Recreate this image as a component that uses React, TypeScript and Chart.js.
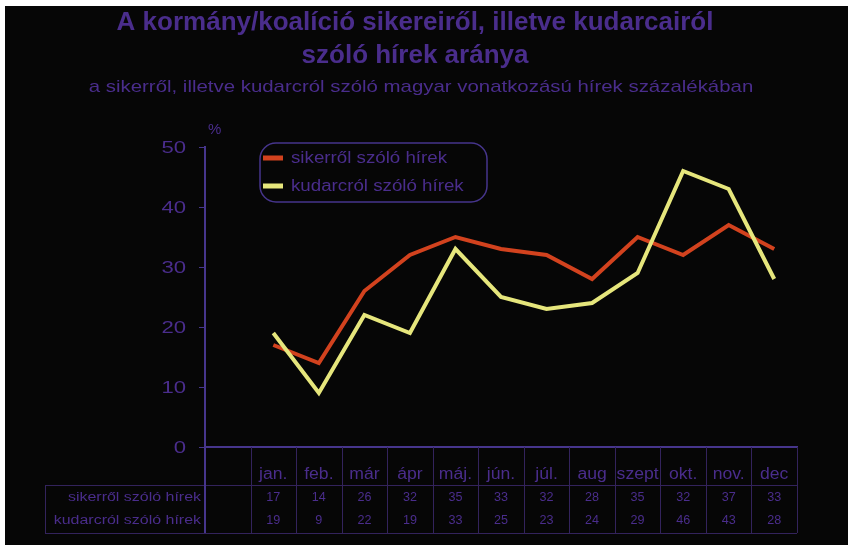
import React, { useEffect, useRef } from "react";
import { Chart, registerables } from "chart.js";

Chart.register(...registerables);

const categories = ["", "jan.", "feb.", "már", "ápr", "máj.", "jún.", "júl.", "aug", "szept", "okt.", "nov.", "dec"];
const sikerLabel = "sikerről szóló hírek";
const kudarcLabel = "kudarcról szóló hírek";
const sikerValues = [17, 14, 26, 32, 35, 33, 32, 28, 35, 32, 37, 33];
const kudarcValues = [19, 9, 22, 19, 33, 25, 23, 24, 29, 46, 43, 28];
const yTicks = [0, 10, 20, 30, 40, 50];
const titleLines = ["A kormány/koalíció sikereiről, illetve kudarcairól", "szóló hírek aránya"];
const subtitle = "a sikerről, illetve kudarcról szóló magyar vonatkozású hírek százalékában";
const unitLabel = "%";

const PURPLE = "#4a2d8c";
const AXIS = "#46358c";
const GRIDLINE = "#33235c";
const RED = "#d2421e";
const YELLOW = "#e6e67c";
const FONT = '"Liberation Sans", Arial, sans-serif';

function stretchText(ctx: any, text: string, x: number, y: number, sx: number) {
  ctx.save();
  ctx.translate(x, y);
  ctx.scale(sx, 1);
  ctx.fillText(text, 0, 0);
  ctx.restore();
}

const decorPlugin = {
  id: "decor",
  afterDraw(chart: any) {
    const ctx = chart.ctx;
    const xs = chart.scales.x;
    const ys = chart.scales.y;
    const area = chart.chartArea;
    ctx.save();
    // titles
    ctx.fillStyle = PURPLE;
    ctx.textAlign = "center";
    ctx.textBaseline = "middle";
    ctx.font = `bold 26px ${FONT}`;
    titleLines.forEach((t, i) => ctx.fillText(t, 410, 17 + 33 * i));
    ctx.font = `17px ${FONT}`;
    stretchText(ctx, subtitle, 416, 81, 1.2);
    // unit
    ctx.font = `15px ${FONT}`;
    ctx.textAlign = "left";
    ctx.fillText(unitLabel, area.left + 3, 124);

    // y tick labels
    ctx.textAlign = "right";
    ctx.font = `17px ${FONT}`;
    ys.ticks.forEach((t: any) => {
      stretchText(ctx, String(t.value), 181, ys.getPixelForValue(t.value) + 1, 1.3);
    });

    // legend box
    const lx = 255, ly = 137, lw = 227, lh = 59, r = 16;
    ctx.strokeStyle = AXIS;
    ctx.lineWidth = 1.5;
    ctx.beginPath();
    ctx.roundRect(lx, ly, lw, lh, r);
    ctx.stroke();
    chart.data.datasets.forEach((ds: any, i: number) => {
      const yy = ly + 15 + 28 * i;
      ctx.strokeStyle = ds.borderColor;
      ctx.lineWidth = 5;
      ctx.beginPath();
      ctx.moveTo(lx + 3, yy);
      ctx.lineTo(lx + 23, yy);
      ctx.stroke();
      ctx.fillStyle = PURPLE;
      ctx.font = `16px ${FONT}`;
      ctx.textAlign = "left";
      stretchText(ctx, ds.label, lx + 31, yy + 1, 1.17);
    });

    // data table
    const step = xs.getPixelForValue(1) - xs.getPixelForValue(0);
    const top = area.bottom;
    const r1 = top + 38;
    const r2 = r1 + 24;
    const r3 = r2 + 24;
    const tableLeft = 40;
    ctx.strokeStyle = GRIDLINE;
    ctx.lineWidth = 1;
    ctx.beginPath();
    ctx.moveTo(tableLeft, r1 + 0.5);
    ctx.lineTo(area.right, r1 + 0.5);
    ctx.moveTo(tableLeft, r3 + 0.5);
    ctx.lineTo(area.right, r3 + 0.5);
    ctx.moveTo(tableLeft + 0.5, r1);
    ctx.lineTo(tableLeft + 0.5, r3);
    for (let i = 0; i <= categories.length; i++) {
      const bx = Math.round(xs.getPixelForValue(i) - step / 2) + 0.5;
      ctx.moveTo(bx, top);
      ctx.lineTo(bx, r3);
    }
    ctx.stroke();
    // y axis extension
    ctx.strokeStyle = AXIS;
    ctx.lineWidth = 2;
    ctx.beginPath();
    ctx.moveTo(area.left, top);
    ctx.lineTo(area.left, r3);
    ctx.stroke();

    ctx.fillStyle = PURPLE;
    ctx.textAlign = "center";
    ctx.textBaseline = "middle";
    categories.forEach((c, i) => {
      if (!c) return;
      const cx = xs.getPixelForValue(i);
      ctx.font = `16px ${FONT}`;
      stretchText(ctx, c, cx, top + 28, 1.1);
      chart.data.datasets.forEach((ds: any, k: number) => {
        const v = ds.data[i];
        if (v == null) return;
        ctx.font = `12px ${FONT}`;
        stretchText(ctx, String(v), cx, r1 + 13 + 23 * k, 1.05);
      });
    });
    ctx.textAlign = "right";
    ctx.font = `12px ${FONT}`;
    chart.data.datasets.forEach((ds: any, k: number) => {
      stretchText(ctx, ds.label, area.left - 4, r1 + 13 + 23 * k, 1.33);
    });
    ctx.restore();
  },
};

export default function App() {
  const ref = useRef<HTMLCanvasElement | null>(null);
  useEffect(() => {
    if (!ref.current) return;
    const chart = new Chart(ref.current, {
      type: "line",
      data: {
        labels: categories,
        datasets: [
          {
            label: sikerLabel,
            data: [null, ...sikerValues],
            borderColor: RED,
            backgroundColor: RED,
            borderWidth: 4,
            pointRadius: 0,
            tension: 0,
            order: 1,
          },
          {
            label: kudarcLabel,
            data: [null, ...kudarcValues],
            borderColor: YELLOW,
            backgroundColor: YELLOW,
            borderWidth: 4,
            pointRadius: 0,
            tension: 0,
            order: 0,
          },
        ],
      },
      options: {
        responsive: false,
        animation: false,
        layout: { padding: { left: 0, top: 141, right: 51, bottom: 98 } },
        plugins: {
          legend: { display: false },
          title: { display: false },
          tooltip: { enabled: false },
        },
        scales: {
          x: {
            type: "category",
            offset: true,
            grid: { display: false, drawTicks: false },
            border: { display: true, color: AXIS, width: 2 },
            ticks: { display: false },
            afterFit(scale: any) {
              scale.height = 0;
            },
          },
          y: {
            min: 0,
            max: 50,
            afterBuildTicks(scale: any) {
              scale.ticks = yTicks.map((v) => ({ value: v }));
            },
            grid: { drawOnChartArea: false, drawTicks: true, tickLength: 6, color: AXIS },
            border: { display: true, color: AXIS, width: 2 },
            ticks: { display: false },
            afterFit(scale: any) {
              scale.width = 200;
            },
          },
        },
      },
      plugins: [decorPlugin],
    });
    return () => chart.destroy();
  }, []);
  return (
    <div
      style={{
        position: "fixed",
        left: 5,
        top: 6,
        width: 843,
        height: 539,
        background: "#060606",
      }}
    >
      <canvas ref={ref} width={843} height={539} style={{ display: "block" }} />
    </div>
  );
}
